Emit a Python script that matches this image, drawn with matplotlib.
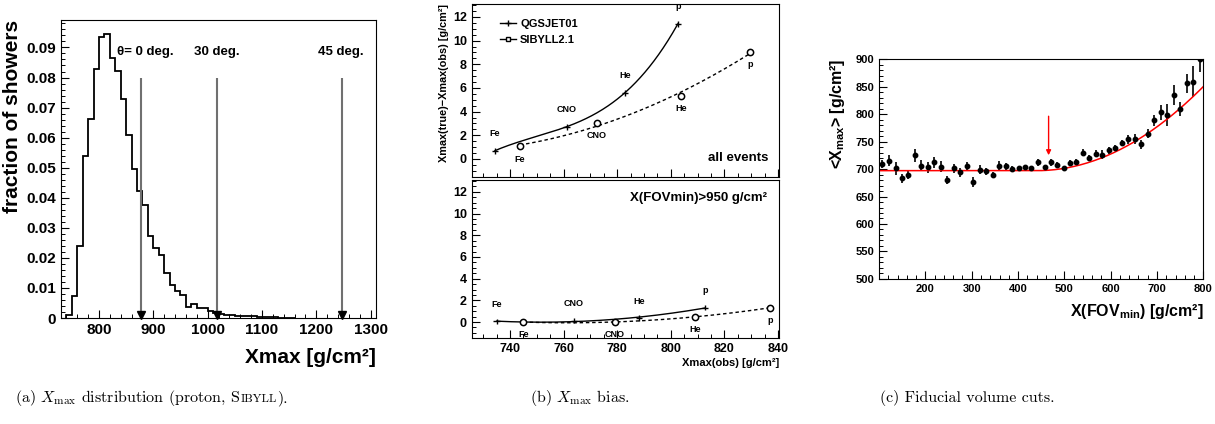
import numpy as np
import matplotlib
matplotlib.use("Agg")
import matplotlib.pyplot as plt
from matplotlib.ticker import MultipleLocator, FuncFormatter
from matplotlib.lines import Line2D

plt.rcParams['font.family'] = ['Liberation Sans', 'DejaVu Sans']
plt.rcParams['font.weight'] = 'bold'
plt.rcParams['mathtext.fontset'] = 'custom'
plt.rcParams['mathtext.rm'] = 'Liberation Sans:bold'
plt.rcParams['mathtext.bf'] = 'Liberation Sans:bold'
plt.rcParams['mathtext.it'] = 'Liberation Sans:bold'

# ---- (a) Xmax distribution, 10 g/cm2 bins starting at 740
hist_lo = 740
hist_width = 10
hist_frac = [0.0010, 0.0074, 0.0238, 0.0540, 0.0663, 0.0829, 0.0936, 0.0946,
             0.0866, 0.0823, 0.0728, 0.0609, 0.0495, 0.0424, 0.0375, 0.0273,
             0.0232, 0.0210, 0.0149, 0.0111, 0.0091, 0.0077, 0.0038, 0.0048,
             0.0034, 0.0033, 0.0022, 0.0017, 0.0014, 0.0011, 0.0009, 0.0008,
             0.0006, 0.0006, 0.0005, 0.0004, 0.0003, 0.0002, 0.0002, 0.0001,
             0.0001, 0.0]
zenith_labels = ["\u03b8= 0 deg.", "30 deg.", "45 deg."]
zenith_xmax = [878, 1017, 1247]

# ---- (b) Xmax bias, points per primary
primaries = ["Fe", "CNO", "He", "p"]
qgs_obs_all = [734.4, 761.1, 782.9, 802.7]
qgs_bias_all = [0.70, 2.72, 5.60, 11.44]
sib_obs_all = [743.7, 772.3, 803.9, 829.7]
sib_bias_all = [1.07, 3.08, 5.33, 9.06]
qgs_obs_cut = [735.0, 763.9, 788.1, 812.7]
qgs_bias_cut = [0.06, 0.12, 0.37, 1.32]
sib_obs_cut = [745.0, 779.1, 809.0, 837.2]
sib_bias_cut = [0.00, 0.00, 0.49, 1.32]

# ---- (c) fiducial volume cut scan
fov_x = [107.3, 122.4, 136.0, 149.7, 163.4, 177.7, 191.4, 205.7, 219.4, 233.8,
         247.4, 261.1, 275.4, 289.1, 303.5, 317.1, 331.5, 345.1, 359.5, 373.2,
         386.8, 401.2, 414.8, 428.5, 442.9, 457.2, 470.9, 484.5, 498.9, 512.6,
         526.2, 540.6, 554.2, 568.6, 582.3, 596.6, 610.3, 624.7, 638.3, 652.0,
         666.3, 680.0, 694.4, 708.0, 722.4, 736.0, 750.4, 764.1, 778.4, 792.1]
mean_xmax = [709, 715, 701, 683, 690, 725, 706, 703, 712, 704,
             680, 701, 694, 705, 676, 699, 696, 689, 706, 705,
             700, 701, 703, 701, 712, 703, 712, 707, 701, 711,
             713, 730, 720, 728, 726, 734, 738, 747, 754, 754,
             745, 764, 789, 803, 798, 835, 809, 856, 859, 900]
mean_xmax_err = [8, 10, 12, 8, 8, 12, 10, 10, 10, 10,
                 7, 9, 8, 7, 9, 8, 6, 6, 8, 6,
                 5, 5, 5, 5, 6, 5, 6, 6, 5, 6,
                 6, 6, 6, 6, 8, 6, 6, 6, 8, 9,
                 8, 8, 10, 14, 20, 18, 12, 17, 28, 24]
# fit: constant below the break, quadratic rise above it
fit_const = 697.0
fit_break = 440.0
fit_curv = 0.00118
cut_fov = 466

fig = plt.figure(figsize=(12.15, 4.24), dpi=100)


def root_ticks(ax, size=9):
    ax.tick_params(which='both', direction='in', top=False, right=False,
                   labelsize=size)
    ax.tick_params(which='major', length=6, width=0.8)
    ax.tick_params(which='minor', length=3, width=0.7)
    for lbl in ax.get_xticklabels() + ax.get_yticklabels():
        lbl.set_fontweight('bold')


# ================= (a)
axa = fig.add_axes([0.0502, 0.25, 0.2593, 0.704])
edges = hist_lo + hist_width * np.arange(len(hist_frac) + 1)
axa.stairs(hist_frac, edges, color='black', lw=1.3)
axa.set_xlim(730, 1310)
axa.set_ylim(0, 0.0993)
axa.xaxis.set_major_locator(MultipleLocator(100))
axa.xaxis.set_minor_locator(MultipleLocator(20))
axa.yaxis.set_major_locator(MultipleLocator(0.01))
axa.yaxis.set_minor_locator(MultipleLocator(0.002))
axa.yaxis.set_major_formatter(FuncFormatter(lambda v, p: "0" if abs(v) < 1e-9 else "%.2f" % v))
root_ticks(axa, 11)
label_shift = [8, -1, -2]
for x, lab, dx in zip(zenith_xmax, zenith_labels, label_shift):
    axa.vlines(x, 0.0008, 0.080, color='#707070', lw=1.5)
    axa.plot([x], [0.0009], marker='v', color='black', ms=6, clip_on=False)
    axa.text(x + dx, 0.0885, lab, ha='center', va='center', fontsize=9.5,
             fontweight='bold')
axa.set_ylabel("fraction of showers", loc='top', fontsize=15, fontweight='bold',
               labelpad=3)
axa.set_xlabel("Xmax [g/cm\u00b2]", loc='right', fontsize=15,
               fontweight='bold', labelpad=8)

# ================= (b)
axb1 = fig.add_axes([0.3882, 0.5833, 0.2532, 0.4073])
axb2 = fig.add_axes([0.3882, 0.2021, 0.2532, 0.3734])


def draw_bias(ax, qx, qy, sx, sy, qdeg, sdeg):
    qx = np.array(qx); qy = np.array(qy)
    sx = np.array(sx); sy = np.array(sy)
    xq = np.linspace(qx.min(), qx.max(), 200)
    xs = np.linspace(sx.min(), sx.max(), 200)
    ax.plot(xq, np.polyval(np.polyfit(qx, qy, qdeg), xq), color='black', lw=1.0)
    ax.plot(xs, np.polyval(np.polyfit(sx, sy, sdeg), xs), color='black', lw=1.0,
            ls=(0, (2.5, 2)))
    ax.errorbar(qx, qy, xerr=1.2, yerr=0.25, fmt='none', ecolor='black', lw=1.0)
    ax.plot(sx, sy, 'o', mfc='white', mec='black', mew=1.1, ms=4.5)
    for x, y, lab in zip(qx, qy, primaries):
        ax.annotate(lab, (x, y), xytext=(0, 9), textcoords='offset points',
                    ha='center', va='bottom', fontsize=6.5, fontweight='bold')
    for x, y, lab in zip(sx, sy, primaries):
        ax.annotate(lab, (x, y), xytext=(0, -6), textcoords='offset points',
                    ha='center', va='top', fontsize=6.5, fontweight='bold')
    ax.set_xlim(725.7, 840.5)
    ax.set_ylim(-1.5, 13.1)
    ax.xaxis.set_major_locator(MultipleLocator(20))
    ax.xaxis.set_minor_locator(MultipleLocator(5))
    ax.yaxis.set_major_locator(MultipleLocator(2))
    ax.yaxis.set_minor_locator(MultipleLocator(0.5))
    root_ticks(ax, 9)


draw_bias(axb1, qgs_obs_all, qgs_bias_all, sib_obs_all, sib_bias_all, 3, 2)
draw_bias(axb2, qgs_obs_cut, qgs_bias_cut, sib_obs_cut, sib_bias_cut, 2, 2)
axb1.tick_params(labelbottom=False)
axb1.text(0.965, 0.11, "all events", transform=axb1.transAxes, ha='right',
          va='center', fontsize=9.5, fontweight='bold')
axb2.text(0.96, 0.885, "X(FOVmin)>950 g/cm\u00b2", transform=axb2.transAxes,
          ha='right', va='center', fontsize=9.5, fontweight='bold')
handles = [Line2D([], [], color='black', lw=1.0, marker='+', ms=4),
           Line2D([], [], color='black', lw=1.0, marker='s', mfc='white', ms=3)]
axb1.legend(handles, ["QGSJET01", "SIBYLL2.1"], loc='upper left',
            bbox_to_anchor=(0.06, 0.97), frameon=False, handlelength=1.4,
            handletextpad=0.4, prop={'size': 8, 'weight': 'bold'})
axb1.set_ylabel("Xmax(true)\u2212Xmax(obs) [g/cm\u00b2]", loc='top',
                fontsize=7.8, fontweight='bold', labelpad=3)
axb2.set_xlabel("Xmax(obs) [g/cm\u00b2]", loc='right', fontsize=8,
                fontweight='bold', labelpad=2)

# ================= (c)
axc = fig.add_axes([0.7235, 0.342, 0.2669, 0.5188])
axc.errorbar(fov_x, mean_xmax, yerr=mean_xmax_err, fmt='o', color='black',
             ms=3.2, lw=1.2, capsize=0)
xf = np.linspace(100, 800, 300)
yf = fit_const + fit_curv * np.clip(xf - fit_break, 0, None) ** 2
axc.plot(xf, yf, color='red', lw=1.1)
axc.annotate("", xy=(cut_fov, 720), xytext=(cut_fov, 801),
             arrowprops=dict(arrowstyle='-|>', color='red', lw=1.0,
                             mutation_scale=7))
axc.set_xlim(100, 800)
axc.set_ylim(500, 900)
axc.set_xticks([200, 300, 400, 500, 600, 700, 800])
axc.xaxis.set_minor_locator(MultipleLocator(20))
axc.yaxis.set_major_locator(MultipleLocator(50))
axc.yaxis.set_minor_locator(MultipleLocator(10))
root_ticks(axc, 8)
axc.set_ylabel("<X$_{\\mathrm{max}}$> [g/cm\u00b2]", loc='top',
               fontsize=11.5, fontweight='bold', labelpad=6)
axc.set_xlabel("X(FOV$_{\\mathrm{min}}$) [g/cm\u00b2]", loc='right',
               fontsize=11.5, fontweight='bold', labelpad=6)

# ================= captions (serif, small caps for Sibyll)
cap = dict(fontsize=11.5, family='cmr10', fontweight='normal', va='baseline',
           math_fontfamily='cm')
cap_y = 0.052
fig.canvas.draw()
renderer = fig.canvas.get_renderer()
x = 0.012
for piece, size in [("(a) $X_{\\rm max}$ distribution (proton, S", 11.5),
                    ("IBYLL", 8.6), (").", 11.5)]:
    c = dict(cap, fontsize=size)
    t = fig.text(x, cap_y, piece, **c)
    x = t.get_window_extent(renderer).x1 / fig.bbox.width + 0.0005
fig.text(0.4365, cap_y, "(b) $X_{\\rm max}$ bias.", **cap)
fig.text(0.7245, cap_y, "(c) Fiducial volume cuts.", **cap)

fig.savefig("out.png", dpi=100)
